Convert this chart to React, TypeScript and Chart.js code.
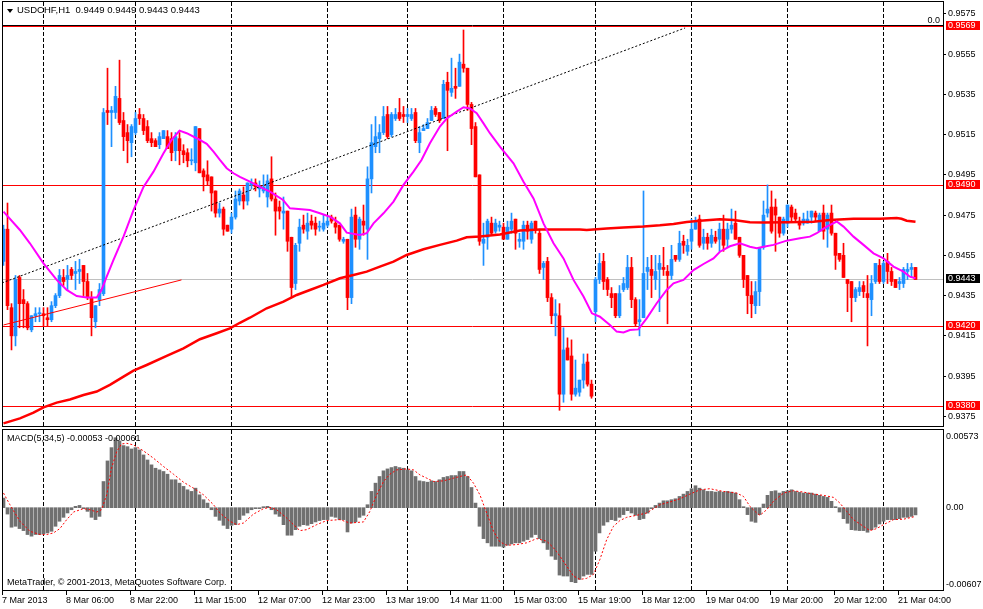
import { useEffect, useRef } from "react";
import { Chart, registerables } from "chart.js";

Chart.register(...registerables);

const FONT = '9px "Liberation Sans", Arial, sans-serif';
const TITLE_FONT = '9.5px "Liberation Sans", Arial, sans-serif';
const BULL = "#1E90FF";
const BEAR = "#FF0000";

// USDCHF H1 bars, oldest first (7 Mar 14:00 .. 21 Mar)
const opens = [
  0.9452, 0.9468, 0.9429, 0.9415, 0.9444, 0.9433, 0.9431, 0.9418, 0.9425, 0.9426,
  0.9426, 0.9424, 0.9423, 0.943, 0.9435, 0.9444, 0.9443, 0.9448, 0.9446, 0.9447,
  0.945, 0.9442, 0.9434, 0.9422, 0.9433, 0.9436, 0.9527, 0.9526, 0.9526, 0.9533,
  0.9522, 0.9516, 0.9511, 0.9516, 0.9525, 0.9523, 0.9519, 0.9513, 0.9512, 0.951,
  0.9513, 0.9514, 0.9513, 0.9507, 0.9513, 0.9507, 0.9506, 0.9502, 0.9501, 0.9518,
  0.9497, 0.9495, 0.9494, 0.9487, 0.9476, 0.9478, 0.947, 0.9468, 0.9474, 0.9482,
  0.9485, 0.9482, 0.949, 0.9491, 0.9488, 0.9487, 0.9484, 0.9493, 0.9483, 0.9479,
  0.9476, 0.9477, 0.9464, 0.9441, 0.9461, 0.947, 0.9467, 0.9472, 0.9471, 0.9469,
  0.9468, 0.947, 0.9474, 0.9471, 0.947, 0.9462, 0.9463, 0.9434, 0.9475, 0.9463,
  0.9472, 0.9468, 0.9493, 0.9509, 0.9513, 0.9516, 0.9525, 0.9515, 0.9523, 0.9526,
  0.9525, 0.9524, 0.9523, 0.9526, 0.9511, 0.9517, 0.9518, 0.9522, 0.9528, 0.9526,
  0.9523, 0.9541, 0.9536, 0.9539, 0.9539, 0.955, 0.9548, 0.953, 0.9519, 0.9495,
  0.9461, 0.9464, 0.9471, 0.9467, 0.9469, 0.9469, 0.9463, 0.9468, 0.9473, 0.9462,
  0.9462, 0.947, 0.9463, 0.9472, 0.9466, 0.9449, 0.9452, 0.9434, 0.9425, 0.9425,
  0.9386, 0.9409, 0.9405, 0.9386, 0.9387, 0.9393, 0.9402, 0.9391, 0.9427, 0.9443,
  0.9452, 0.9443, 0.9436, 0.9436, 0.9425, 0.9438, 0.9439, 0.9449, 0.9433, 0.9422,
  0.9424, 0.9447, 0.9448, 0.9443, 0.9448, 0.9449, 0.9447, 0.9445, 0.9455, 0.9453,
  0.9462, 0.9457, 0.9462, 0.9468, 0.9473, 0.9461, 0.9464, 0.9461, 0.9464, 0.9463,
  0.9468, 0.9463, 0.9468, 0.9471, 0.9464, 0.9455, 0.9445, 0.9435, 0.943, 0.9437,
  0.9459, 0.9476, 0.9479, 0.9479, 0.9474, 0.9466, 0.9471, 0.9479, 0.9476, 0.9472,
  0.9471, 0.9471, 0.9474, 0.9476, 0.9467, 0.9476, 0.9468, 0.9476, 0.9466, 0.9456,
  0.9455, 0.9443, 0.9442, 0.9434, 0.9437, 0.944, 0.9436, 0.9433, 0.9442, 0.945,
  0.9442, 0.9452, 0.9447, 0.9443, 0.9441, 0.9441, 0.9447, 0.9448, 0.9449,
];
const highs = [
  0.947, 0.9481, 0.9431, 0.9445, 0.9445, 0.9438, 0.9432, 0.9425, 0.9429, 0.9429,
  0.9429, 0.9429, 0.9432, 0.9436, 0.9448, 0.9448, 0.945, 0.9449, 0.9452, 0.9453,
  0.945, 0.9446, 0.9437, 0.943, 0.9441, 0.9528, 0.9548, 0.9529, 0.9539, 0.9552,
  0.9526, 0.952, 0.952, 0.9526, 0.9528, 0.9525, 0.9522, 0.9516, 0.9513, 0.9516,
  0.9517, 0.9517, 0.9516, 0.9516, 0.9516, 0.951, 0.9508, 0.9508, 0.9519, 0.9518,
  0.9498, 0.9502, 0.9494, 0.9487, 0.9481, 0.9479, 0.947, 0.9476, 0.9487, 0.9488,
  0.9489, 0.9491, 0.9493, 0.9493, 0.9492, 0.9495, 0.9495, 0.9504, 0.9486, 0.9482,
  0.9484, 0.9477, 0.9464, 0.9461, 0.9473, 0.9475, 0.9476, 0.9475, 0.9474, 0.9472,
  0.9475, 0.9474, 0.9475, 0.9474, 0.947, 0.9464, 0.9463, 0.9478, 0.9479, 0.9474,
  0.948, 0.9499, 0.952, 0.9524, 0.952, 0.9529, 0.9529, 0.9526, 0.9528, 0.9533,
  0.9529, 0.9528, 0.9528, 0.9528, 0.9519, 0.952, 0.9523, 0.9529, 0.9529, 0.9526,
  0.9542, 0.9546, 0.9553, 0.9548, 0.9555, 0.9567, 0.9548, 0.9531, 0.9521, 0.9495,
  0.9471, 0.9473, 0.9474, 0.9473, 0.9472, 0.9471, 0.9472, 0.9476, 0.9473, 0.9466,
  0.9472, 0.9472, 0.9472, 0.9472, 0.9468, 0.9452, 0.9454, 0.9436, 0.9433, 0.9431,
  0.9419, 0.9414, 0.9413, 0.9403, 0.9393, 0.9406, 0.9406, 0.9393, 0.9444, 0.9456,
  0.9456, 0.9444, 0.9439, 0.9436, 0.944, 0.9444, 0.9455, 0.9454, 0.9434, 0.9433,
  0.9487, 0.9454, 0.9455, 0.9455, 0.9455, 0.9459, 0.945, 0.946, 0.9455, 0.9467,
  0.9465, 0.9463, 0.9473, 0.9474, 0.9475, 0.9468, 0.9466, 0.9468, 0.9467, 0.9471,
  0.9475, 0.9471, 0.9478, 0.9477, 0.9464, 0.9455, 0.9445, 0.9442, 0.9442, 0.9459,
  0.9482, 0.949, 0.9487, 0.9483, 0.9474, 0.9474, 0.948, 0.948, 0.9478, 0.9474,
  0.9476, 0.9477, 0.9477, 0.9477, 0.9476, 0.948, 0.9476, 0.948, 0.9466, 0.9456,
  0.9461, 0.9443, 0.9442, 0.9439, 0.9442, 0.9442, 0.9445, 0.9445, 0.9451, 0.9453,
  0.9452, 0.9456, 0.9449, 0.9443, 0.9444, 0.9449, 0.9451, 0.9451, 0.9449,
];
const lows = [
  0.945, 0.9428, 0.9408, 0.941, 0.9419, 0.9419, 0.9418, 0.9417, 0.9422, 0.9422,
  0.942, 0.942, 0.9422, 0.9429, 0.9434, 0.944, 0.9438, 0.9443, 0.9438, 0.9441,
  0.9435, 0.9433, 0.9415, 0.9419, 0.943, 0.9435, 0.952, 0.9509, 0.9523, 0.952,
  0.9507, 0.9501, 0.9504, 0.9515, 0.952, 0.9515, 0.9511, 0.9509, 0.9509, 0.9508,
  0.9513, 0.9508, 0.9502, 0.9502, 0.95, 0.9501, 0.9499, 0.95, 0.9497, 0.9496,
  0.9487, 0.949, 0.9477, 0.9474, 0.9474, 0.9465, 0.9467, 0.9466, 0.9473, 0.948,
  0.9478, 0.948, 0.9488, 0.9487, 0.9484, 0.9486, 0.9479, 0.9482, 0.9465, 0.9473,
  0.9468, 0.9457, 0.9434, 0.9438, 0.9457, 0.9466, 0.9463, 0.9468, 0.9465, 0.9467,
  0.9467, 0.9469, 0.9471, 0.9466, 0.9462, 0.9461, 0.9428, 0.9431, 0.9459, 0.9458,
  0.9465, 0.9453, 0.9486, 0.9506, 0.9506, 0.9515, 0.9513, 0.9514, 0.9522, 0.9522,
  0.9521, 0.9521, 0.9522, 0.9511, 0.9506, 0.9517, 0.9518, 0.9522, 0.9524, 0.9521,
  0.9523, 0.9507, 0.9534, 0.9533, 0.9539, 0.9546, 0.9527, 0.951, 0.9494, 0.946,
  0.945, 0.9458, 0.9465, 0.9466, 0.9467, 0.9463, 0.9463, 0.9466, 0.9458, 0.9459,
  0.9458, 0.9463, 0.9461, 0.9466, 0.9446, 0.9443, 0.9432, 0.9421, 0.9415, 0.9378,
  0.9382, 0.9403, 0.9383, 0.9385, 0.9385, 0.9389, 0.939, 0.9384, 0.9422, 0.9441,
  0.9438, 0.9435, 0.9429, 0.9424, 0.9424, 0.9437, 0.9438, 0.9429, 0.942, 0.9415,
  0.9424, 0.9438, 0.9434, 0.9438, 0.9427, 0.9445, 0.9421, 0.9443, 0.9452, 0.9452,
  0.9456, 0.9455, 0.9458, 0.9468, 0.9459, 0.9458, 0.9458, 0.9459, 0.9461, 0.9457,
  0.9457, 0.9459, 0.9466, 0.9463, 0.9454, 0.9439, 0.9426, 0.9424, 0.9426, 0.943,
  0.9458, 0.9474, 0.9466, 0.9457, 0.9464, 0.9465, 0.9469, 0.9472, 0.9472, 0.9468,
  0.947, 0.9471, 0.9471, 0.9472, 0.9467, 0.9463, 0.9459, 0.9465, 0.9448, 0.9452,
  0.9444, 0.9427, 0.9422, 0.9432, 0.9435, 0.9434, 0.941, 0.9425, 0.9441, 0.9441,
  0.9441, 0.9441, 0.944, 0.9439, 0.9438, 0.9439, 0.9443, 0.9444, 0.9443,
];
const closes = [
  0.9468, 0.943, 0.9415, 0.9443, 0.9431, 0.9431, 0.9419, 0.9425, 0.9426, 0.9426,
  0.9425, 0.9423, 0.943, 0.9435, 0.9445, 0.9442, 0.9445, 0.9445, 0.9447, 0.9448,
  0.9442, 0.9434, 0.9424, 0.943, 0.9438, 0.9526, 0.9526, 0.9527, 0.9534, 0.9521,
  0.9514, 0.9512, 0.9519, 0.9523, 0.9523, 0.9517, 0.9512, 0.9511, 0.9509, 0.9514,
  0.9517, 0.9508, 0.9506, 0.9514, 0.9507, 0.9505, 0.9502, 0.9502, 0.9519, 0.9496,
  0.9494, 0.9492, 0.9486, 0.9476, 0.9478, 0.9468, 0.9467, 0.9474, 0.9483, 0.9487,
  0.9482, 0.9491, 0.9491, 0.9489, 0.9489, 0.9489, 0.9492, 0.9483, 0.9477, 0.9477,
  0.9477, 0.9462, 0.9439, 0.946, 0.9469, 0.9468, 0.9471, 0.947, 0.9468, 0.9469,
  0.9471, 0.9472, 0.9472, 0.9469, 0.9463, 0.9463, 0.9434, 0.9474, 0.9463, 0.9473,
  0.947, 0.9493, 0.9511, 0.9514, 0.9516, 0.9524, 0.9514, 0.9525, 0.9525, 0.9523,
  0.9524, 0.9525, 0.9525, 0.9512, 0.9516, 0.9518, 0.9521, 0.9527, 0.9525, 0.9522,
  0.954, 0.9537, 0.9538, 0.9538, 0.9551, 0.9548, 0.953, 0.9518, 0.9494, 0.9462,
  0.9463, 0.9472, 0.9466, 0.9471, 0.947, 0.9463, 0.9469, 0.9472, 0.9466, 0.9463,
  0.947, 0.9467, 0.9471, 0.9468, 0.9448, 0.9451, 0.9434, 0.9425, 0.9426, 0.9386,
  0.9408, 0.9403, 0.9386, 0.9389, 0.9393, 0.9401, 0.9391, 0.9385, 0.9443, 0.9451,
  0.9442, 0.9438, 0.9434, 0.9425, 0.9436, 0.9441, 0.9449, 0.9433, 0.9421, 0.9423,
  0.9446, 0.9449, 0.9445, 0.9447, 0.9451, 0.9448, 0.9445, 0.9453, 0.9453, 0.9461,
  0.946, 0.946, 0.9468, 0.9472, 0.946, 0.9464, 0.9461, 0.9465, 0.9462, 0.9468,
  0.946, 0.9468, 0.947, 0.9463, 0.9455, 0.9443, 0.9435, 0.9431, 0.9437, 0.9459,
  0.9475, 0.9478, 0.9467, 0.9475, 0.9466, 0.9473, 0.948, 0.9474, 0.9473, 0.947,
  0.9473, 0.9473, 0.9477, 0.9474, 0.9475, 0.9467, 0.9475, 0.9466, 0.9455, 0.9453,
  0.9444, 0.9441, 0.9434, 0.9438, 0.9439, 0.9437, 0.9434, 0.9441, 0.9451, 0.9442,
  0.9451, 0.9447, 0.9442, 0.9439, 0.9442, 0.9448, 0.9448, 0.9449, 0.9443,
];

// moving averages, sampled (bar index, price)
const maFastBars = [
  0, 4.1, 6.6, 10, 13.3, 15.8, 18.3, 20.8, 23.3, 24.5, 25.8, 27.5, 30, 32.5, 35, 37.5, 40, 42, 44,
  45.8, 48.3, 50.8, 52.5, 54.1, 55.8, 57.5, 59.1, 61.6, 64.1, 66.6, 69.9, 71.6, 76.6, 79.1, 81.6,
  84.1, 85.8, 89.1, 90.8, 92.5, 95, 97.5, 100, 102.5, 104.5, 106.6, 109.1, 110.8, 113.3, 115,
  116.6, 118.3, 120, 121.6, 124.1, 127.5, 130, 132.5, 135, 137.5, 140, 142.5, 145, 147.1, 149.1,
  151.6, 153.3, 155, 156.6, 158.7, 160.8, 163.3, 165.8, 167.5, 170, 172.5, 175, 177.5, 179.1,
  181.6, 184.1, 186.6, 188.3, 190, 192.5, 195.8, 199.1, 201.6, 203.3, 205.8, 208.3, 210, 212.5,
  215, 217.5, 220, 222.5, 225, 226.6, 228,
];
const maFastValues = [
  0.94767, 0.94676, 0.9461, 0.9451, 0.94428, 0.94378, 0.94348, 0.9434, 0.9434, 0.94378, 0.94444,
  0.94527, 0.94643, 0.94775, 0.9489, 0.94966, 0.95057, 0.95123, 0.9517, 0.95157, 0.95132,
  0.95104, 0.95065, 0.95024, 0.94983, 0.94958, 0.9494, 0.94916, 0.9489, 0.94867, 0.94825,
  0.94784, 0.94775, 0.94759, 0.94742, 0.94709, 0.94663, 0.94651, 0.9466, 0.94709, 0.94759,
  0.94817, 0.949, 0.94966, 0.95024, 0.95107, 0.9519, 0.9523, 0.95264, 0.95286, 0.9528, 0.95256,
  0.95206, 0.95157, 0.9509, 0.95007, 0.94916, 0.94833, 0.94709, 0.9461, 0.94535, 0.94428,
  0.94345, 0.94262, 0.94245, 0.94204, 0.94171, 0.94167, 0.94179, 0.94182, 0.94237, 0.94312,
  0.94378, 0.94411, 0.94428, 0.94477, 0.94507, 0.94535, 0.94568, 0.94595, 0.9461, 0.94593,
  0.94585, 0.94593, 0.94602, 0.94623, 0.94635, 0.94643, 0.9466, 0.94693, 0.94718, 0.94693,
  0.94643, 0.94602, 0.9456, 0.94535, 0.94494, 0.94469, 0.94444, 0.94436,
];
const maSlowBars = [
  0, 4.1, 7.5, 10, 13.3, 16.6, 20, 23.3, 26.6, 30, 32.5, 35.8, 40.8, 45, 49.1, 53.3, 56.6, 59.1,
  61.6, 65.8, 70, 73.3, 76.6, 80, 84.1, 87.5, 90.8, 94.1, 97.5, 100.8, 105, 109.1, 113.3, 115.8,
  119.1, 124.1, 129.1, 134.1, 144.1, 145.8, 150.8, 155, 160, 164.1, 167.5, 170.8, 174.1, 179.1,
  182.5, 186.6, 190, 195.8, 202.5, 206.6, 212.5, 219.1, 223.3, 224.5, 225.8, 228,
];
const maSlowValues = [
  0.93715, 0.9374, 0.93768, 0.93795, 0.93818, 0.93834, 0.93856, 0.93873, 0.93906, 0.93947,
  0.93977, 0.94005, 0.9405, 0.94088, 0.94133, 0.94163, 0.94187, 0.94215, 0.9424, 0.94287,
  0.9432, 0.94353, 0.94378, 0.94403, 0.94436, 0.94452, 0.94469, 0.94494, 0.94519, 0.94552,
  0.9458, 0.94602, 0.94623, 0.9464, 0.94644, 0.94654, 0.94673, 0.94679, 0.94679, 0.94676,
  0.94683, 0.94689, 0.94693, 0.94699, 0.94706, 0.94716, 0.94722, 0.94729, 0.94726, 0.94714,
  0.94713, 0.94714, 0.94717, 0.94726, 0.94732, 0.94732, 0.94736, 0.94732, 0.94722, 0.94717,
];

// drawn objects
const fibBars = [-0.375, 170.4];
const fibValues = [0.94413, 0.9568];
const trendBars = [0, 44.5];
const trendValues = [0.94204, 0.94428];
const fibZeroLevel = 0.9569;
const redLevels = [0.9569, 0.949, 0.942, 0.938];
const bidPrice = 0.9443;

// axes
const priceMin = 0.93697;
const priceMax = 0.95809;
const priceTicks = [0.9575, 0.9555, 0.9535, 0.9515, 0.9495, 0.9475, 0.9455, 0.9435, 0.9415, 0.9395, 0.9375];
const timeLabelBars = [0, 16, 32, 48, 64, 80, 96, 112, 128, 144, 160, 176, 192, 208, 224];
const timeLabels = [
  "7 Mar 2013", "8 Mar 06:00", "8 Mar 22:00", "11 Mar 15:00", "12 Mar 07:00", "12 Mar 23:00",
  "13 Mar 19:00", "14 Mar 11:00", "15 Mar 03:00", "15 Mar 19:00", "18 Mar 12:00", "19 Mar 04:00",
  "19 Mar 20:00", "20 Mar 12:00", "21 Mar 04:00",
];
const daySeparatorBars = [10, 33, 57, 81, 101, 125, 148, 172, 196, 220];

// MACD(5,34,5)
const macdMin = -0.00607;
const macdMax = 0.00573;
const macdHist = [
  0.00071, -0.00047, -0.00144, -0.00137, -0.00154, -0.00169, -0.00198, -0.0021, -0.00198, -0.00198,
  -0.00193, -0.00186, -0.00174, -0.00137, -0.001, -0.00071, -0.00039, -0.00015, 0.0001, 0.00017,
  -0.00002, -0.00027, -0.00071, -0.00088, -0.00064, 0.00193, 0.00345, 0.00443, 0.00516, 0.00492,
  0.00458, 0.0045, 0.00433, 0.00443, 0.00426, 0.00389, 0.00352, 0.00316, 0.00291, 0.00279,
  0.00267, 0.00247, 0.00206, 0.00206, 0.00181, 0.00157, 0.00132, 0.0012, 0.00144, 0.00095,
  0.00059, 0.00034, -0.00015, -0.00064, -0.00093, -0.0013, -0.00154, -0.0013, -0.00125, -0.00088,
  -0.00056, -0.00039, -0.00015, -0.00007, -0.00002, 0.00002, 0.0001, -0.00015, -0.00047, -0.00064,
  -0.00125, -0.00203, -0.00203, -0.00162, -0.00137, -0.00125, -0.0013, -0.00118, -0.00105, -0.00095,
  -0.00088, -0.00088, -0.00064, -0.00071, -0.00088, -0.00088, -0.00179, -0.00113, -0.00105, -0.00071,
  -0.00056, 0.00022, 0.0012, 0.00181, 0.0023, 0.00272, 0.00286, 0.00296, 0.00304, 0.00296,
  0.00291, 0.00279, 0.00272, 0.0023, 0.00198, 0.00193, 0.00188, 0.00198, 0.00193, 0.00206,
  0.00223, 0.0023, 0.00237, 0.00237, 0.00267, 0.00267, 0.0023, 0.00149, 0.00034, -0.00137,
  -0.00228, -0.00259, -0.00284, -0.00284, -0.00284, -0.00291, -0.00277, -0.00267, -0.00259, -0.00259,
  -0.00247, -0.00235, -0.00218, -0.00198, -0.00228, -0.00259, -0.00308, -0.00357, -0.00382, -0.00497,
  -0.00504, -0.00504, -0.00546, -0.00553, -0.00529, -0.00504, -0.00492, -0.00492, -0.00321, -0.00186,
  -0.0013, -0.00105, -0.00088, -0.00095, -0.00071, -0.00051, -0.00022, -0.00039, -0.00056, -0.00088,
  -0.0008, -0.0004, -0.00005, 0.00017, 0.00034, 0.00051, 0.00051, 0.00059, 0.00066, 0.00083,
  0.001, 0.0012, 0.0014, 0.00162, 0.00144, 0.00132, 0.0012, 0.0012, 0.00115, 0.0012,
  0.00115, 0.0012, 0.00115, 0.00108, 0.00059, 0.00002, -0.00051, -0.001, -0.00108, -0.00051,
  0.00027, 0.00091, 0.0012, 0.00125, 0.00108, 0.0012, 0.00125, 0.00132, 0.0012, 0.00113,
  0.00108, 0.00108, 0.00108, 0.001, 0.00091, 0.00083, 0.00076, 0.00047, 0.00002, -0.00032,
  -0.00081, -0.00115, -0.00162, -0.00166, -0.00169, -0.00169, -0.00181, -0.00162, -0.00144, -0.0012,
  -0.001, -0.00088, -0.00088, -0.00088, -0.00081, -0.00071, -0.00071, -0.00064, -0.00053,
];
const signalBars = [
  0, 1.6, 4.1, 6.6, 9.1, 10.8, 12.5, 14.1, 15.8, 17.5, 20, 21.6, 23.3, 24.5, 25.8, 27, 28.3, 29.5,
  30.8, 32.5, 35, 37.5, 40, 42.5, 45, 47.5, 50, 52.5, 54.1, 56.6, 58.3, 60, 62.5, 65, 66.6, 68.3,
  70.8, 72.5, 74.1, 75.8, 78.3, 80.8, 84.1, 86.6, 90, 91.6, 93.3, 95, 96.6, 98.3, 100.8, 102.5,
  104.1, 105.8, 107.5, 110, 112.5, 114.1, 115.8, 117.5, 119.1, 120.8, 122.5, 124.1, 125.8, 128.3,
  130.8, 133.3, 135.8, 137.5, 139.1, 140.8, 142.5, 144.1, 145.8, 147.5, 149.1, 150.8, 152.5,
  154.1, 155.8, 158.3, 160.8, 164.1, 166.6, 169.1, 171.6, 174.1, 176.6, 180, 183.3, 185, 186.6,
  188.3, 189.1, 190.8, 192.5, 195, 197.5, 200, 202.5, 205, 207.5, 209.1, 210.8, 212.5, 214.1,
  216.6, 218.3, 220, 222.5, 225, 227.5, 228,
];
const signalValues = [
  0.00108, 0.00022, -0.001, -0.00174, -0.00198, -0.00198, -0.00186, -0.00154, -0.00088, -0.00032,
  -0.00007, -0.00015, -0.00032, -0.00015, 0.00095, 0.00291, 0.00414, 0.0047, 0.00475, 0.00463,
  0.00419, 0.00365, 0.00304, 0.00247, 0.00188, 0.00144, 0.00095, 0.00022, -0.00039, -0.001,
  -0.00125, -0.00113, -0.00047, -0.00007, 0.00002, -0.00015, -0.00076, -0.00125, -0.00169,
  -0.00162, -0.00125, -0.00095, -0.00088, -0.00113, -0.00105, -0.00027, 0.00095, 0.00193,
  0.00247, 0.00279, 0.00286, 0.00279, 0.00242, 0.00218, 0.00193, 0.00198, 0.00218, 0.0023,
  0.00242, 0.00181, 0.00095, -0.00039, -0.00174, -0.00252, -0.00277, -0.00272, -0.00259,
  -0.00228, -0.00247, -0.00296, -0.00357, -0.00431, -0.00504, -0.00529, -0.00521, -0.00492,
  -0.00382, -0.00235, -0.00137, -0.00095, -0.00071, -0.00056, -0.00039, 0.00022, 0.00042,
  0.00066, 0.001, 0.00132, 0.0014, 0.0012, 0.00108, 0.00083, 0.0001, -0.00039, -0.00056,
  -0.00015, 0.00047, 0.00108, 0.00125, 0.00115, 0.001, 0.00091, 0.00076, 0.00034, -0.00027,
  -0.00088, -0.0012, -0.00169, -0.00154, -0.00125, -0.00088, -0.00085, -0.00068, -0.00061,
];

// 4 px per bar, plot area 941 px wide
const X_MIN = -0.375;
const X_MAX = X_MIN + 941 / 4;

const candleColors = opens.map((o, i) => (closes[i] >= o ? BULL : BEAR));
const pairs = (xs: number[], ys: number[]) => xs.map((x, i) => ({ x, y: ys[i] }));

const drawSeparators = (chart: any) => {
  const { ctx, chartArea: a, scales } = chart;
  ctx.save();
  ctx.strokeStyle = "#000";
  ctx.lineWidth = 1;
  ctx.setLineDash([4, 2]);
  for (const b of daySeparatorBars) {
    const px = Math.floor(scales.x.getPixelForValue(b)) + 0.5;
    ctx.beginPath();
    ctx.moveTo(px, a.top);
    ctx.lineTo(px, a.bottom);
    ctx.stroke();
  }
  ctx.restore();
};

const mainDecor = {
  id: "mainDecor",
  beforeDatasetsDraw(chart: any) {
    const { ctx, chartArea: a, scales } = chart;
    drawSeparators(chart);
    ctx.save();
    ctx.lineWidth = 1;
    const hline = (v: number, color: string, shift = 0) => {
      const py = Math.round(scales.y.getPixelForValue(v)) + shift + 0.5;
      ctx.strokeStyle = color;
      ctx.beginPath();
      ctx.moveTo(a.left, py);
      ctx.lineTo(a.right, py);
      ctx.stroke();
    };
    hline(bidPrice, "#C0C0C0");
    hline(fibZeroLevel, "#000", -1);
    redLevels.forEach((v) => hline(v, "#FF0000"));
    ctx.restore();
  },
  afterDraw(chart: any) {
    const { ctx, chartArea: a, scales } = chart;
    const y = scales.y;
    ctx.save();
    ctx.strokeStyle = "#000";
    ctx.lineWidth = 1;
    ctx.strokeRect(a.left + 0.5, a.top - 0.5, a.right - a.left, a.bottom - a.top);

    ctx.font = FONT;
    ctx.textBaseline = "middle";
    ctx.textAlign = "left";
    const box = (v: number, fill: string) => {
      const py = Math.round(y.getPixelForValue(v));
      ctx.fillStyle = fill;
      ctx.fillRect(a.right + 3, py - 5, 34, 9);
      ctx.fillStyle = "#fff";
      ctx.fillText(v.toFixed(4), a.right + 5, py - 0.5);
    };
    redLevels.forEach((v) => box(v, "#FF0000"));
    box(bidPrice, "#000");

    ctx.fillStyle = "#000";
    ctx.textAlign = "right";
    ctx.textBaseline = "alphabetic";
    ctx.fillText("0.0", a.right - 3, Math.round(y.getPixelForValue(fibZeroLevel)) - 3);

    // symbol header
    ctx.beginPath();
    ctx.moveTo(a.left + 5, a.top + 7);
    ctx.lineTo(a.left + 11, a.top + 7);
    ctx.lineTo(a.left + 8, a.top + 11);
    ctx.closePath();
    ctx.fill();
    const n = closes.length - 1;
    const head = `USDCHF,H1  ${opens[n].toFixed(4)} ${highs[n].toFixed(4)} ${lows[n].toFixed(4)} ${closes[n].toFixed(4)}`;
    ctx.font = TITLE_FONT;
    ctx.textAlign = "left";
    ctx.textBaseline = "middle";
    ctx.fillText(head, a.left + 15, a.top + 8.5);
    ctx.restore();
  },
};

const macdDecor = {
  id: "macdDecor",
  beforeDatasetsDraw(chart: any) {
    drawSeparators(chart);
  },
  afterDraw(chart: any) {
    const { ctx, chartArea: a, scales } = chart;
    ctx.save();
    ctx.strokeStyle = "#000";
    ctx.lineWidth = 1;
    ctx.strokeRect(a.left + 0.5, a.top - 0.5, a.right - a.left, a.bottom - a.top + 1);

    ctx.fillStyle = "#000";
    ctx.font = FONT;
    ctx.textAlign = "left";
    ctx.textBaseline = "middle";
    ctx.fillText(macdMax.toFixed(5), a.right + 3, a.top + 7);
    ctx.fillText((0).toFixed(2), a.right + 3, scales.y.getPixelForValue(0));
    ctx.fillText(macdMin.toFixed(5), a.right + 3, a.bottom - 5);

    const last = macdHist[macdHist.length - 1];
    const lastSig = signalValues[signalValues.length - 1];
    ctx.fillText(`MACD(5,34,5) ${last.toFixed(5)} ${lastSig.toFixed(5)}`, a.left + 5, a.top + 8.5);
    ctx.fillText("MetaTrader, \u00A9 2001-2013, MetaQuotes Software Corp.", a.left + 5, a.bottom - 7);

    timeLabelBars.forEach((b, i) => {
      const px = Math.floor(scales.x.getPixelForValue(b) - 1.5) + 0.5;
      ctx.beginPath();
      ctx.moveTo(px, a.bottom + 1);
      ctx.lineTo(px, a.bottom + 5);
      ctx.stroke();
      ctx.fillText(timeLabels[i], px - 0.5, a.bottom + 10.5);
    });
    ctx.restore();
  },
};

const xScale = { type: "linear" as const, min: X_MIN, max: X_MAX, display: false, offset: false };

export default function App() {
  const mainRef = useRef<HTMLCanvasElement | null>(null);
  const macdRef = useRef<HTMLCanvasElement | null>(null);

  useEffect(() => {
    if (!mainRef.current || !macdRef.current) return;

    const main = new Chart(mainRef.current, {
      type: "bar",
      data: {
        datasets: [
          { type: "line", data: pairs(maFastBars, maFastValues), borderColor: "#FF00FF", borderWidth: 2, pointRadius: 0 },
          { type: "line", data: pairs(maSlowBars, maSlowValues), borderColor: "#FF0000", borderWidth: 2.5, pointRadius: 0 },
          { type: "line", data: pairs(fibBars, fibValues), borderColor: "#000", borderWidth: 1, borderDash: [2, 2], pointRadius: 0 },
          { type: "line", data: pairs(trendBars, trendValues), borderColor: "#FF0000", borderWidth: 1, pointRadius: 0 },
          {
            type: "bar",
            data: opens.map((o, i) => ({ x: i, y: [o, closes[i]] })),
            backgroundColor: candleColors,
            barThickness: 3,
            minBarLength: 1,
            grouped: false,
          },
          {
            type: "bar",
            data: lows.map((l, i) => ({ x: i, y: [l, highs[i]] })),
            backgroundColor: candleColors,
            barThickness: 1,
            grouped: false,
          },
        ] as any,
      },
      options: {
        responsive: false,
        animation: false,
        events: [],
        layout: { padding: { top: 2, left: 2, bottom: 1, right: 0 } },
        plugins: { legend: { display: false }, tooltip: { enabled: false } },
        scales: {
          x: xScale,
          y: {
            position: "right",
            min: priceMin,
            max: priceMax,
            afterBuildTicks: (s: any) => {
              s.ticks = priceTicks.map((value) => ({ value }));
            },
            afterFit: (s: any) => {
              // labels sit inside the range, so no extra room above or below the plot
              s.width = 40;
              s.paddingTop = 0;
              s.paddingBottom = 0;
            },
            grid: { drawOnChartArea: false, color: "#000", tickLength: 3 },
            border: { display: false },
            ticks: {
              color: "#000",
              padding: 2,
              autoSkip: false,
              font: { family: '"Liberation Sans", Arial, sans-serif', size: 9 },
              callback: (v: any) => Number(v).toFixed(4),
            },
          },
        },
      } as any,
      plugins: [mainDecor],
    });

    const macd = new Chart(macdRef.current, {
      type: "bar",
      data: {
        datasets: [
          { type: "line", data: pairs(signalBars, signalValues), borderColor: "#FF0000", borderWidth: 1, borderDash: [2, 2], pointRadius: 0 },
          {
            type: "bar",
            data: macdHist.map((v, i) => ({ x: i, y: v })),
            backgroundColor: "#707070",
            barThickness: 3,
            minBarLength: 1,
          },
        ] as any,
      },
      options: {
        responsive: false,
        animation: false,
        events: [],
        layout: { padding: { top: 2, left: 2, bottom: 19, right: 40 } },
        plugins: { legend: { display: false }, tooltip: { enabled: false } },
        scales: {
          x: xScale,
          y: { min: macdMin, max: macdMax, display: false },
        },
      } as any,
      plugins: [macdDecor],
    });

    return () => {
      main.destroy();
      macd.destroy();
    };
  }, []);

  return (
    <div style={{ position: "fixed", left: 0, top: 0, width: 983, height: 609, background: "#fff" }}>
      <canvas ref={mainRef} width={983} height={428} style={{ position: "absolute", left: 0, top: 0 }} />
      <canvas ref={macdRef} width={983} height={181} style={{ position: "absolute", left: 0, top: 428 }} />
    </div>
  );
}
